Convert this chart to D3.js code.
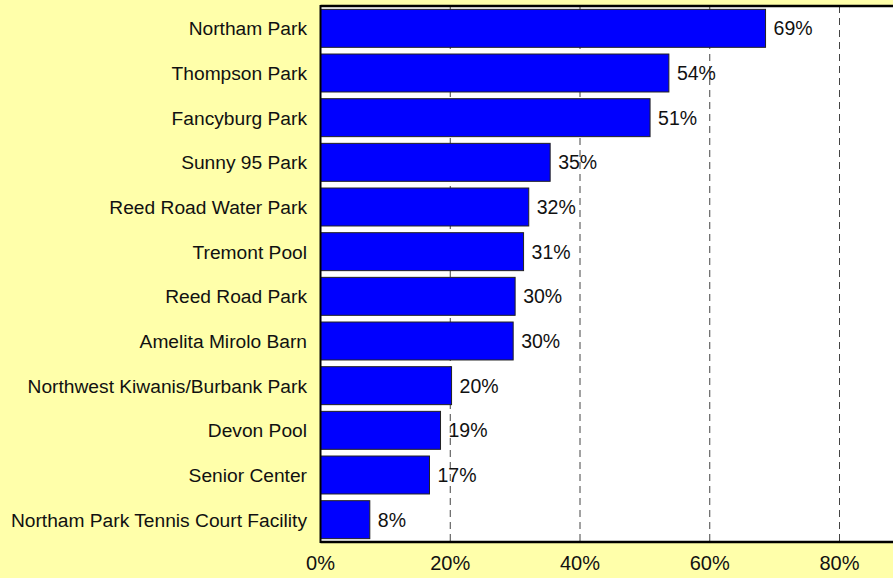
<!DOCTYPE html>
<html>
<head>
<script src="https://cdn.jsdelivr.net/npm/d3@7"></script>
<style>
  body { margin: 0; background: #ffffaa; }
  svg { display: block; font-family: Arial, "Liberation Sans", sans-serif; }
</style>
</head>
<body>
<svg id="chart"></svg>
<script>
  const parks = ["Northam Park", "Thompson Park", "Fancyburg Park", "Sunny 95 Park",
    "Reed Road Water Park", "Tremont Pool", "Reed Road Park", "Amelita Mirolo Barn",
    "Northwest Kiwanis/Burbank Park", "Devon Pool", "Senior Center",
    "Northam Park Tennis Court Facility"];
  const shares = [68.6, 53.7, 50.8, 35.4, 32.1, 31.3, 30.0, 29.7, 20.2, 18.5, 16.8, 7.6];
  const ticks = [0, 20, 40, 60, 80];

  const W = 893, H = 578;
  const plotLeft = 320.5, plotTop = 6, plotBottom = 542;

  const svg = d3.select("#chart").attr("width", W).attr("height", H);

  svg.append("rect").attr("width", W).attr("height", H).attr("fill", "#ffffaa");

  const x = d3.scaleLinear().domain([0, 80]).range([plotLeft, 839.5]);
  const y = d3.scaleBand().domain(parks).range([plotTop, plotBottom])
    .paddingInner(0.15).paddingOuter(0.075);

  // plot area
  svg.append("rect").attr("x", plotLeft).attr("y", plotTop)
    .attr("width", W - plotLeft).attr("height", plotBottom - plotTop).attr("fill", "#fff");

  // dashed grid
  svg.append("g").selectAll("line").data(ticks.slice(1)).join("line")
    .attr("x1", d => x(d)).attr("x2", d => x(d))
    .attr("y1", plotTop).attr("y2", plotBottom)
    .attr("stroke", "#444").attr("stroke-width", 1)
    .attr("stroke-dasharray", "7,5");

  // bars
  svg.append("g").selectAll("rect").data(parks).join("rect")
    .attr("x", plotLeft)
    .attr("y", d => y(d))
    .attr("width", (d, i) => x(shares[i]) - plotLeft)
    .attr("height", y.bandwidth())
    .attr("fill", "#0000ff")
    .attr("stroke", "#222")
    .attr("stroke-width", 1);

  // value labels
  svg.append("g").selectAll("text").data(parks).join("text")
    .attr("x", (d, i) => x(shares[i]) + 8)
    .attr("y", d => y(d) + y.bandwidth() / 2)
    .attr("dy", "0.36em")
    .attr("font-size", 19.5)
    .attr("fill", "#111")
    .text((d, i) => Math.round(shares[i]) + "%");

  // category labels
  svg.append("g").selectAll("text").data(parks).join("text")
    .attr("x", 307)
    .attr("y", d => y(d) + y.bandwidth() / 2)
    .attr("dy", "0.36em")
    .attr("text-anchor", "end")
    .attr("font-size", 19.2)
    .attr("fill", "#111")
    .text(d => d);

  // x tick labels
  svg.append("g").selectAll("text").data(ticks).join("text")
    .attr("x", d => x(d))
    .attr("y", 570)
    .attr("text-anchor", "middle")
    .attr("font-size", 20)
    .attr("fill", "#111")
    .text(d => d + "%");

  // frame lines
  svg.append("line").attr("x1", plotLeft).attr("x2", W).attr("y1", plotTop).attr("y2", plotTop)
    .attr("stroke", "#000").attr("stroke-width", 2.5);
  svg.append("line").attr("x1", plotLeft).attr("x2", W).attr("y1", plotBottom).attr("y2", plotBottom)
    .attr("stroke", "#000").attr("stroke-width", 2.5);
  svg.append("line").attr("x1", plotLeft).attr("x2", plotLeft).attr("y1", plotTop - 1).attr("y2", plotBottom + 1)
    .attr("stroke", "#000").attr("stroke-width", 2);
</script>
</body>
</html>
